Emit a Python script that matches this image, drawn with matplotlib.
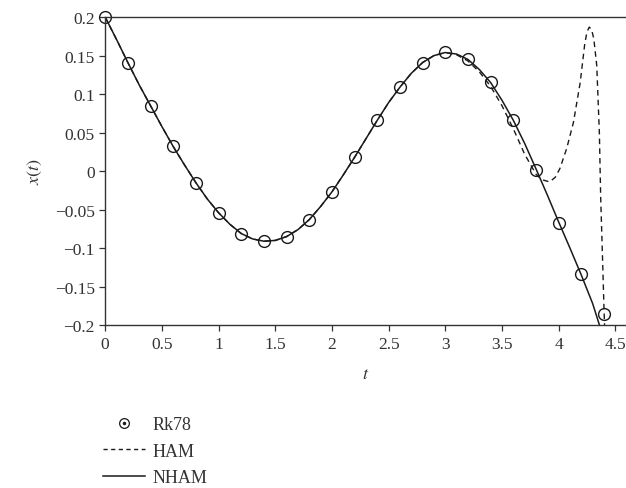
import matplotlib
matplotlib.use("Agg")
import matplotlib.pyplot as plt
from matplotlib.lines import Line2D

plt.rcParams['font.family'] = ['Liberation Serif', 'DejaVu Serif']
plt.rcParams['mathtext.fontset'] = 'stix'

# Rk78 reference points
t_rk = [0, 0.2, 0.4, 0.6, 0.8, 1.0, 1.2, 1.4, 1.6, 1.8, 2.0, 2.2,
        2.4, 2.6, 2.8, 3.0, 3.2, 3.4, 3.6, 3.8, 4.0, 4.2, 4.4]
x_rk = [0.2, 0.141, 0.085, 0.032, -0.015, -0.054, -0.081, -0.091, -0.086,
        -0.064, -0.027, 0.018, 0.066, 0.109, 0.141, 0.155, 0.146, 0.116,
        0.067, 0.002, -0.068, -0.134, -0.186]

# NHAM solution
t_nham = [0, 0.1, 0.2, 0.3, 0.4, 0.5, 0.6, 0.7, 0.8, 0.9, 1.0, 1.1, 1.2,
          1.3, 1.4, 1.5, 1.6, 1.7, 1.8, 1.9, 2.0, 2.1, 2.2, 2.3, 2.4, 2.5,
          2.6, 2.7, 2.8, 2.9, 3.0, 3.1, 3.2, 3.3, 3.4, 3.5, 3.6, 3.7, 3.8,
          3.9, 4.0, 4.1, 4.2, 4.3, 4.36]
x_nham = [0.2, 0.171, 0.141, 0.112, 0.085, 0.058, 0.032, 0.008, -0.015,
          -0.036, -0.054, -0.069, -0.081, -0.088, -0.091, -0.090, -0.085,
          -0.076, -0.063, -0.046, -0.027, -0.005, 0.018, 0.042, 0.066,
          0.089, 0.109, 0.127, 0.141, 0.150, 0.154, 0.152, 0.145, 0.132,
          0.115, 0.092, 0.066, 0.036, 0.003, -0.031, -0.066, -0.100,
          -0.135, -0.172, -0.2]

# HAM solution
t_ham = [0, 0.1, 0.2, 0.3, 0.4, 0.5, 0.6, 0.7, 0.8, 0.9, 1.0, 1.1, 1.2,
         1.3, 1.4, 1.5, 1.6, 1.7, 1.8, 1.9, 2.0, 2.1, 2.2, 2.3, 2.4, 2.5,
         2.6, 2.7, 2.8, 2.9, 3.0, 3.1, 3.2, 3.3, 3.4, 3.5, 3.6, 3.7, 3.8,
         3.85, 3.92, 3.97, 4.01, 4.07, 4.13, 4.19, 4.23, 4.25, 4.27, 4.29,
         4.31, 4.336, 4.359, 4.371, 4.389, 4.40, 4.405]
x_ham = [0.2, 0.171, 0.141, 0.112, 0.085, 0.058, 0.032, 0.008, -0.015,
         -0.036, -0.054, -0.069, -0.081, -0.088, -0.091, -0.090, -0.085,
         -0.076, -0.063, -0.046, -0.027, -0.005, 0.018, 0.042, 0.066,
         0.089, 0.109, 0.127, 0.141, 0.150, 0.154, 0.151, 0.143, 0.129,
         0.110, 0.085, 0.055, 0.022, -0.004, -0.011, -0.014, -0.008, 0.003,
         0.029, 0.063, 0.115, 0.165, 0.181, 0.187, 0.184, 0.172, 0.137,
         0.050, -0.036, -0.123, -0.179, -0.2]

ink = '#1a1a1a'
grey = '#333333'

fig = plt.figure(figsize=(6.26, 4.89), dpi=100)
ax = fig.add_axes([0.168, 0.333, 0.832, 0.630])

ax.plot(t_rk, x_rk, 'o', mfc='none', mec=ink, ms=8.5, mew=1.0, clip_on=False)
ax.plot(t_ham, x_ham, '--', color=ink, lw=1.0, dashes=(4, 3))
ax.plot(t_nham, x_nham, '-', color=ink, lw=1.1)

ax.set_xlim(0, 4.594)
ax.set_ylim(-0.2, 0.2)
ax.set_xticks([0, 0.5, 1, 1.5, 2, 2.5, 3, 3.5, 4, 4.5])
ax.set_xticklabels(['0', '0.5', '1', '1.5', '2', '2.5', '3', '3.5', '4', '4.5'])
ax.set_yticks([-0.2, -0.15, -0.1, -0.05, 0, 0.05, 0.1, 0.15, 0.2])
ax.set_yticklabels(['\u22120.2', '\u22120.15', '\u22120.1', '\u22120.05', '0',
                    '0.05', '0.1', '0.15', '0.2'])
ax.tick_params(direction='out', length=4, width=0.9, colors=grey,
               labelsize=12.5, labelcolor=grey)
ax.spines['right'].set_visible(False)
for s in ['left', 'bottom', 'top']:
    ax.spines[s].set_color(grey)
    ax.spines[s].set_linewidth(1.0)

ax.set_xlabel('$t$', fontsize=13, color=grey, labelpad=10)
ax.set_ylabel('$x(t)$', fontsize=13, color=grey, labelpad=8)

# legend proxies
h_ring = Line2D([], [], ls='none', marker='o', mfc='none', mec=ink, ms=7, mew=0.9)
h_dot = Line2D([], [], ls='none', marker='o', color=ink, ms=1.5)
h_ham = Line2D([], [], ls='--', color=ink, lw=1.0, dashes=(3, 2.5))
h_nham = Line2D([], [], ls='-', color=ink, lw=1.1)
fig.legend([(h_ring, h_dot), h_ham, h_nham], ['Rk78', 'HAM', 'NHAM'],
           loc='upper left', bbox_to_anchor=(0.165, 0.147), frameon=False,
           fontsize=13, handlelength=2.3, labelspacing=0.52,
           handletextpad=0.45, borderaxespad=0, borderpad=0,
           labelcolor=grey)

fig.savefig('out.png', dpi=100)
